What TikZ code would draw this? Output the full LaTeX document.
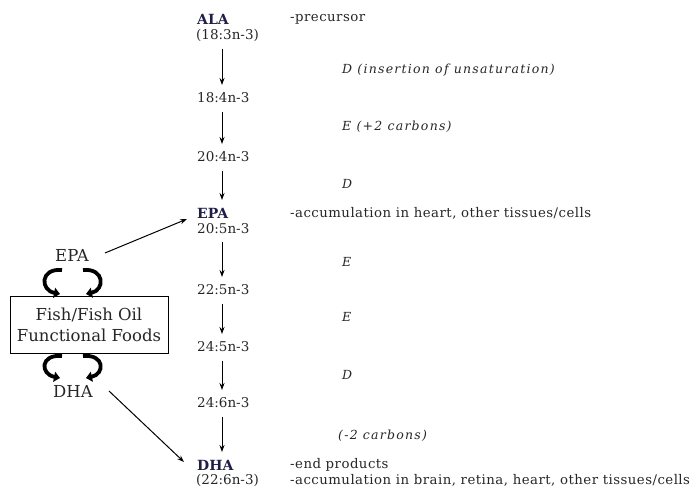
\documentclass[tikz,border=0pt]{standalone}
\usepackage{fontspec}
\setmainfont{DejaVu Serif}
\usetikzlibrary{arrows.meta}
\definecolor{navy}{RGB}{30,30,70}
\begin{document}
\begin{tikzpicture}[x=1pt,y=-1pt,
  every node/.style={inner sep=0pt, text=black!85},
  col/.style={anchor=west, font=\fontsize{13.5}{14}\selectfont},
  colb/.style={anchor=west, font=\fontsize{14}{14}\selectfont\bfseries, text=navy},
  note/.style={anchor=west, font=\fontsize{13.3}{14}\selectfont\addfontfeatures{LetterSpace=3.5}},
  enz/.style={anchor=west, font=\fontsize{12.5}{14}\selectfont\itshape\addfontfeatures{LetterSpace=10}},
  side/.style={font=\fontsize{16.5}{21}\selectfont},
  chain/.style={-{Stealth[length=7pt,width=5pt]}, line width=1pt},
  feed/.style={-{Stealth[length=7pt,width=5pt]}, line width=1pt},
  curl/.style={-{Triangle[length=6pt,width=10pt]}, line width=3.8pt}]
\useasboundingbox (0,0) rectangle (699,489);
% main column
\node[colb] (ala) at (197,19) {ALA};
\node[col] (ala2) at (196,35) {(18:3n-3)};
\node[col] (c184) at (197,98) {18:4n-3};
\node[col] (c204) at (197,157) {20:4n-3};
\node[colb] (epa) at (197,213) {EPA};
\node[col] (epa2) at (197,229) {20:5n-3};
\node[col] (c225) at (197,290) {22:5n-3};
\node[col] (c245) at (197,347) {24:5n-3};
\node[col] (c246) at (197,403) {24:6n-3};
\node[colb] (dha) at (197,465) {DHA};
\node[col] (dha2) at (196,480) {(22:6n-3)};
\coordinate (ax) at (222,0);
\draw[chain] ([yshift=-14pt]ala2.center -| ax) -- ([yshift=13pt]c184.center -| ax);
\draw[chain] ([yshift=-14pt]c184.center -| ax) -- ([yshift=13pt]c204.center -| ax);
\draw[chain] ([yshift=-14pt]c204.center -| ax) -- ([yshift=13pt]epa.center -| ax);
\draw[chain] ([yshift=-13pt]epa2.center -| ax) -- ([yshift=13pt]c225.center -| ax);
\draw[chain] ([yshift=-14pt]c225.center -| ax) -- ([yshift=13pt]c245.center -| ax);
\draw[chain] ([yshift=-14pt]c245.center -| ax) -- ([yshift=13pt]c246.center -| ax);
\draw[chain] ([yshift=-14pt]c246.center -| ax) -- ([yshift=13pt]dha.center -| ax);
% enzyme labels
\node[enz] (e1) at (342,70) {D (insertion of unsaturation)};
\node[enz] (e2) at (342,127) {E (+2 carbons)};
\node[enz] (e3) at (342,184) {D};
\node[enz] (e4) at (342,262) {E};
\node[enz] (e5) at (342,317) {E};
\node[enz] (e6) at (342,375) {D};
\node[enz] (e7) at (338,436) {(-2 carbons)};
% notes
\node[note] (n1) at (290,19) {-precursor};
\node[note] (n2) at (290,213) {-accumulation in heart, other tissues/cells};
\node[note] (n3) at (290,465) {-end products};
\node[note] (n4) at (290,480) {-accumulation in brain, retina, heart, other tissues/cells};
% left side
\node[side] (lepa) at (72,255) {EPA};
\node[side, draw=black, line width=1pt, minimum width=158pt, minimum height=57pt, align=center] (box) at (89,324.5) {Fish/Fish Oil\\Functional Foods};
\node[side] (ldha) at (73,391) {DHA};
\draw[feed] ([xshift=16pt,yshift=2pt]lepa.east) -- ([xshift=-10pt,yshift=-6pt]epa.west);
\draw[feed] ([xshift=16pt]ldha.east) -- ([xshift=-13pt,yshift=3pt]dha.west);
% curls
\coordinate (u1) at (62,270); \coordinate (u2) at (60,294);
\coordinate (u3) at (83,270); \coordinate (u4) at (86,294);
\coordinate (l1) at (62,356); \coordinate (l2) at (60,378);
\coordinate (l3) at (83,356); \coordinate (l4) at (86,378);
\draw[curl] (u1) .. controls (40,268) and (40,290) .. (u2);
\draw[curl] (u3) .. controls (105,268) and (105,290) .. (u4);
\draw[curl] (l1) .. controls (40,354) and (40,374) .. (l2);
\draw[curl] (l3) .. controls (105,354) and (105,374) .. (l4);
\end{tikzpicture}
\end{document}
